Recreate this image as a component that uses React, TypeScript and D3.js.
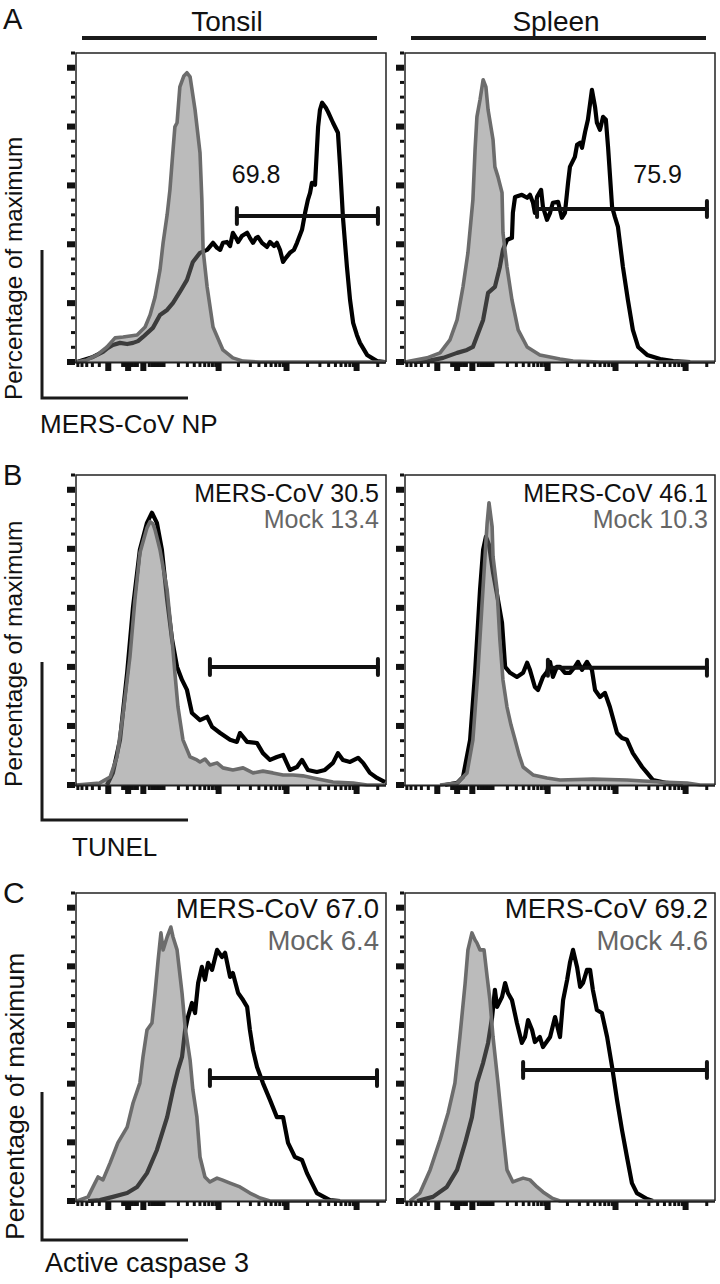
import React from 'react';
import * as d3 from 'd3';

// ---------- axis tick values (biexponential intensity axis, % of max) ----------
const xMajorTicks = [-200, -60, 0, 1000, 10000, 100000];
const xMinorTicks = [
  -700, -600, -500, -400, -300, -90, -80, -70, -50, -40, -30, -20,
  20, 30, 40, 50, 60, 70, 80, 90,
  200, 300, 400, 500, 600, 700, 800, 900,
  2000, 3000, 4000, 5000, 6000, 7000, 8000, 9000,
  20000, 30000, 40000, 50000, 60000, 70000, 80000, 90000,
  200000,
];
const yMajorTicks = [0, 20, 40, 60, 80, 100];
const yMinorTicks = [5, 10, 15, 25, 30, 35, 45, 50, 55, 65, 70, 75, 85, 90, 95, 105];

// ---------- labels ----------
const columns = ['Tonsil', 'Spleen'];
const panelLetters = ['A', 'B', 'C'];
const markers = ['MERS-CoV NP', 'TUNEL', 'Active caspase 3'];
const yLabel = 'Percentage of maximum';

// ---------- histograms: [channel (0-100 % of axis), % of maximum] ----------
const aTonsilMock: [number, number][] = [[0,0],[3.5,0.7],[6.8,2.4],[10.0,5.1],[12.6,8.2],[15.2,8.5],[19.7,9.2],[22.3,11.9],[23.9,16.0],[25.5,22.1],[27.1,31.3],[28.1,40.5],[29.4,50.0],[30.3,58.5],[31.3,72.1],[31.9,79.9],[32.6,81.3],[33.5,93.5],[34.8,97.2],[35.8,98.3],[36.8,96.9],[38.4,85.7],[40.0,71.1],[40.6,55.1],[41.0,38.1],[42.3,25.5],[44.2,11.9],[47.4,4.1],[50.6,1.4],[53.9,0.3],[59.4,0],[100,0]];
const aTonsilMers: [number, number][] = [[0.3,0],[5.5,1.7],[8.7,3.4],[10.3,4.8],[11.9,5.8],[14.2,6.5],[16.5,6.1],[18.4,6.5],[20.0,7.1],[21.6,8.5],[24.8,11.6],[27.1,16.0],[29.4,17.7],[31.3,20.1],[33.5,23.8],[35.8,27.9],[37.7,34.0],[40.0,37.1],[42.3,38.1],[44.2,40.5],[45.5,38.8],[46.5,38.1],[47.4,40.5],[48.7,40.8],[49.7,39.4],[50.6,43.9],[51.6,42.2],[52.3,40.8],[53.5,42.8],[55.2,43.9],[56.1,42.2],[57.1,40.5],[58.1,42.2],[58.7,42.5],[60.0,40.5],[61.6,39.1],[62.6,40.8],[63.9,39.4],[64.8,40.5],[65.8,38.1],[66.8,34.0],[67.7,35.4],[69.0,37.1],[70.3,38.1],[71.3,40.5],[72.9,44.9],[73.9,50.7],[74.8,55.1],[75.5,57.5],[76.1,60.9],[77.1,60.2],[77.7,72.1],[78.1,79.9],[78.7,85.7],[79.4,88.1],[80.6,86.4],[81.3,85.0],[82.9,81.3],[84.5,77.9],[85.2,66.3],[85.8,55.1],[86.1,49.3],[87.4,32.3],[88.4,21.1],[89.4,13.3],[90.6,9.2],[91.6,6.5],[93.9,2.4],[97.1,0.3],[99.7,0]];
const aSpleenMock: [number, number][] = [[0,0],[7.1,1.4],[11.3,3.1],[14.5,7.5],[16.8,14.3],[18.7,25.5],[20.3,37.1],[21.9,55.1],[22.6,72.1],[23.2,83.3],[24.2,89.1],[25.2,95.9],[26.1,93.5],[26.8,85.7],[28.4,75.5],[29.0,66.3],[30.0,62.9],[31.3,57.5],[31.6,43.9],[32.9,32.3],[34.5,21.1],[36.5,10.9],[39.4,5.1],[43.5,2.4],[50.0,1.0],[54.2,0.3],[63,0],[100,0]];
const aSpleenMers: [number, number][] = [[3.0,0],[7.1,0.3],[12.3,1.4],[16.8,3.1],[20.0,4.1],[21.9,5.1],[25.2,14.3],[26.8,23.5],[29.0,25.5],[30.6,32.3],[31.6,38.1],[32.9,41.5],[34.5,42.2],[34.8,50.7],[35.5,56.1],[37.7,56.8],[39.4,55.8],[40.3,56.8],[41.3,54.1],[41.9,50.7],[42.6,56.1],[43.9,58.5],[44.5,52.7],[45.8,48.3],[46.8,50.7],[47.7,54.1],[49.4,54.4],[50.6,49.0],[51.6,50.7],[52.6,60.9],[53.2,66.3],[54.8,69.7],[55.5,73.8],[56.5,74.5],[57.1,72.8],[58.1,78.2],[59.0,82.3],[60.3,92.5],[61.3,86.7],[61.9,81.3],[62.9,78.9],[63.9,83.3],[64.8,82.3],[65.5,73.1],[66.8,52.7],[67.7,49.3],[68.7,45.9],[70.3,32.3],[71.9,21.1],[73.5,10.9],[75.2,5.1],[78.1,2.4],[82.3,1.0],[86.5,0.3],[92,0]];

const bTonsilMock: [number, number][] = [[0,0],[7.7,0.7],[11.0,2.7],[13.2,9.5],[15.2,24.4],[17.4,43.4],[19.0,62.7],[20.6,78.6],[22.9,87.1],[23.9,89.2],[24.8,88.5],[25.5,86.4],[27.1,79.7],[29.4,66.1],[31.0,49.2],[31.9,38.0],[32.9,26.4],[34.5,15.3],[36.8,9.5],[39.0,8.5],[40.0,7.8],[41.6,8.8],[43.2,6.8],[45.5,7.5],[47.4,5.8],[50.6,5.1],[53.9,5.8],[57.1,4.1],[60.3,4.7],[63.5,4.1],[66.8,3.4],[70.0,3.4],[73.2,3.1],[76.5,2.4],[79.7,1.7],[82.9,1.0],[89.4,0.7],[93.9,0],[100,0]];
const bTonsilMers: [number, number][] = [[10.0,0],[11.9,4.1],[14.2,15.3],[16.5,38.0],[18.4,60.3],[20.6,79.7],[22.9,88.8],[24.5,92.2],[26.1,88.8],[27.7,79.7],[29.4,62.7],[31.0,49.2],[32.6,40.0],[34.2,35.6],[35.8,32.2],[37.4,24.4],[40.0,22.0],[42.3,23.1],[43.9,19.7],[46.5,17.6],[49.7,15.3],[51.9,14.6],[52.9,17.6],[55.2,14.6],[58.4,14.2],[60.3,10.8],[62.6,8.5],[64.8,9.5],[66.8,10.2],[69.0,5.1],[71.3,6.1],[72.9,8.5],[74.8,5.1],[77.7,4.4],[80.3,5.1],[82.9,7.5],[84.5,10.8],[86.1,8.5],[88.4,7.8],[91.0,9.2],[92.6,7.5],[94.8,4.1],[97.1,2.4],[99.7,1.0]];
const bSpleenMock: [number, number][] = [[11.3,0],[16.8,0.7],[20.0,4.1],[21.9,15.3],[23.5,38.0],[24.8,60.3],[25.8,77.3],[26.5,88.8],[27.1,95.6],[28.1,87.5],[28.4,77.3],[29.7,66.1],[30.6,49.2],[31.6,35.6],[32.9,26.4],[34.2,20.3],[35.5,15.3],[36.8,10.2],[38.1,6.1],[41.3,3.4],[45.8,2.4],[50.0,1.7],[60.6,2.0],[71.6,1.7],[82.3,1.0],[91.0,0.7],[95.2,0],[100,0]];
const bSpleenMers: [number, number][] = [[12.9,0],[16.8,0.7],[18.7,2.7],[21.0,15.3],[22.6,38.0],[24.2,66.1],[25.2,79.7],[26.1,84.1],[27.1,81.4],[28.4,71.9],[30.0,62.7],[31.3,54.9],[32.3,40.0],[33.9,38.0],[36.1,36.6],[38.1,38.0],[39.4,41.4],[40.3,39.0],[41.9,33.2],[42.9,32.2],[44.5,36.6],[45.8,38.3],[46.8,41.7],[47.7,36.6],[49.0,40.0],[50.0,40.0],[51.6,38.0],[53.2,38.0],[54.8,40.0],[55.8,41.7],[57.1,39.0],[58.7,41.7],[60.3,39.0],[61.3,32.2],[62.9,29.8],[64.5,31.2],[66.1,26.4],[68.4,17.6],[70.0,15.9],[71.6,15.3],[73.5,10.8],[76.5,6.1],[78.1,4.1],[80.0,1.7],[84.5,0.7],[89.7,0]];

const cTonsilMock: [number, number][] = [[0.3,0],[3.9,1.4],[5.5,4.8],[7.1,8.2],[8.7,7.2],[11.0,13.0],[13.5,19.8],[16.5,25.2],[18.4,33.4],[20.6,40.2],[21.6,49.1],[22.9,58.3],[24.5,60.7],[25.5,70.9],[26.5,82.2],[27.4,91.4],[28.1,85.6],[29.4,90.0],[30.6,93.4],[31.3,90.0],[32.6,85.6],[34.2,70.9],[35.2,59.3],[36.8,48.1],[37.7,37.9],[39.0,28.6],[40.0,15.0],[41.6,8.2],[43.2,6.5],[45.5,7.8],[47.1,7.2],[49.7,6.1],[52.9,4.8],[56.1,2.7],[59.4,1.0],[62.6,0],[100,0]];
const cTonsilMers: [number, number][] = [[3.9,0],[7.7,0.3],[11.9,1.4],[16.5,2.7],[19.7,4.8],[22.9,9.5],[26.1,17.4],[29.4,28.6],[31.3,37.9],[32.9,44.7],[34.2,49.1],[35.2,58.3],[36.1,62.7],[37.4,67.5],[38.4,64.1],[39.4,74.3],[40.6,79.8],[41.6,75.4],[42.6,81.2],[43.9,78.8],[45.5,85.6],[47.1,83.2],[48.1,84.6],[49.7,76.4],[50.6,77.7],[52.3,70.9],[53.9,68.5],[55.2,66.2],[56.1,58.3],[57.1,51.5],[58.4,45.7],[60.3,40.2],[62.6,34.4],[64.8,28.6],[66.8,28.6],[68.4,19.8],[70.6,15.0],[72.9,14.0],[74.5,9.5],[77.7,2.7],[81.9,0.3],[85.2,0]];
const cSpleenMock: [number, number][] = [[1.6,0],[4.8,2.7],[8.1,10.6],[11.3,20.8],[13.9,30.0],[16.1,40.2],[17.7,55.9],[19.4,74.3],[20.3,85.6],[21.6,91.4],[22.6,89.0],[23.2,88.0],[24.2,85.6],[25.5,85.6],[26.5,76.4],[27.4,68.5],[28.4,55.9],[30.0,40.2],[31.6,23.2],[32.9,10.6],[34.8,6.5],[36.5,7.2],[38.1,7.8],[40.3,7.2],[42.6,4.8],[44.5,3.1],[47.4,1.0],[50.0,0],[100,0]];
const cSpleenMers: [number, number][] = [[3.9,0],[9.0,1.4],[13.5,4.8],[16.8,10.6],[19.4,19.8],[21.6,28.6],[23.2,40.2],[25.2,47.1],[26.8,53.9],[28.1,62.7],[29.0,72.0],[29.7,66.2],[31.3,69.6],[32.3,74.3],[33.2,70.9],[34.5,68.5],[36.1,60.7],[37.7,53.9],[38.7,55.9],[39.7,61.7],[41.0,58.3],[41.9,54.2],[43.5,55.9],[44.5,52.5],[46.8,55.9],[48.4,62.7],[50.0,55.9],[51.0,68.5],[52.3,75.4],[53.2,81.2],[54.2,85.6],[55.5,79.8],[56.5,73.0],[57.4,74.3],[58.7,78.8],[59.7,78.8],[60.6,72.0],[61.9,65.1],[63.5,64.1],[65.2,55.9],[66.8,45.7],[68.4,34.4],[70.0,24.2],[71.6,15.0],[73.2,6.1],[74.8,2.7],[78.1,0.7],[80.0,0]];

// ---------- gates: [start channel, end channel, height %] ----------
const gates: [number, number, number][][] = [
  [[51.9, 97.4, 49.6], [42.6, 97.4, 52.0]],
  [[43.2, 97.4, 40.0], [46.1, 97.4, 39.7]],
  [[43.2, 97.1, 41.9], [38.1, 97.4, 44.7]],
];
const gateValues = ['69.8', '75.9'];
const mersValues = [['30.5', '46.1'], ['67.0', '69.2']];
const mockValues = [['13.4', '10.3'], ['6.4', '4.6']];

const FONT = '"Liberation Sans", Arial, Helvetica, sans-serif';
const DARK = '#111';
const GRAY_LINE = '#6c6c6c';
const FILL = '#777';

const bioScale = d3.scaleSymlog().constant(93).domain([-750, 262000]).range([0, 100]);

type PanelProps = {
  left: number; top: number; bottom: number; width: number;
  mock: [number, number][]; mers: [number, number][];
  gate: [number, number, number];
};

function Histogram({ left, top, bottom, width, mock, mers, gate }: PanelProps) {
  const x = d3.scaleLinear().domain([0, 100]).range([left, left + width]);
  const y = d3.scaleLinear().domain([0, 105]).range([bottom, top]);
  const line = d3.line<[number, number]>().x(d => x(d[0])).y(d => y(d[1]));
  const area = d3.area<[number, number]>().x(d => x(d[0])).y0(y(0)).y1(d => y(d[1]));
  const right = left + width;
  const [g0, g1, gy] = gate;
  return (
    <g>
      <path d={line(mers) || ''} fill="none" stroke="#000" strokeWidth={4.2} strokeLinejoin="round" />
      <path d={area(mock) || ''} fill={FILL} fillOpacity={0.5} stroke="none" />
      <path d={line(mock) || ''} fill="none" stroke={GRAY_LINE} strokeWidth={3.6} strokeLinejoin="round" />
      <path d={`M${left},${bottom} V${top} H${right} V${bottom}`} fill="none" stroke="#222" strokeWidth={1.5} />
      <line x1={left - 1} x2={right} y1={bottom + 0.5} y2={bottom + 0.5} stroke="#222" strokeWidth={2} />
      {yMajorTicks.map(t => (
        <rect key={'ym' + t} x={left - 9} y={y(t) - 3} width={8} height={6} fill={DARK} />
      ))}
      {yMinorTicks.map(t => (
        <rect key={'yn' + t} x={left - 5} y={y(t) - 1.5} width={4} height={3} fill={DARK} />
      ))}
      {xMajorTicks.map(t => (
        <rect key={'xm' + t} x={x(bioScale(t)) - 3} y={bottom + 1} width={6} height={8} fill={DARK} />
      ))}
      {xMinorTicks.map(t => (
        <rect key={'xn' + t} x={x(bioScale(t)) - 1.5} y={bottom + 1} width={3} height={4} fill={DARK} />
      ))}
      <g stroke="#111" strokeWidth={4} strokeLinecap="round">
        <line x1={x(g0)} x2={x(g1)} y1={y(gy)} y2={y(gy)} />
        <line x1={x(g0)} x2={x(g0)} y1={y(gy) - 8} y2={y(gy) + 8} />
        <line x1={x(g1)} x2={x(g1)} y1={y(gy) - 8} y2={y(gy) + 8} />
      </g>
    </g>
  );
}

export default function App() {
  const colLefts = [76, 405];
  const W = 310;
  const rows = [
    { top: 53, bottom: 362 },
    { top: 475, bottom: 785 },
    { top: 893, bottom: 1201 },
  ];
  const data = [
    [[aTonsilMock, aTonsilMers], [aSpleenMock, aSpleenMers]],
    [[bTonsilMock, bTonsilMers], [bSpleenMock, bSpleenMers]],
    [[cTonsilMock, cTonsilMers], [cSpleenMock, cSpleenMers]],
  ];
  const letterY = [29, 485, 903];
  const letterSize = [29, 29, 30];
  const ylabBottom = [400, 787, 1240];
  const ylabX = [22, 22, 24];
  const ylabSize = [24.3, 24.6, 26.5];
  const lCorner = [{ top: 250, y: 398 }, { top: 662, y: 820 }, { top: 1092, y: 1240 }];
  const markerPos = [{ x: 40, y: 433, s: 26 }, { x: 72, y: 856, s: 26 }, { x: 45, y: 1272, s: 27 }];
  const annSize = [25, 27.5];
  const annDy = [[27, 53], [25, 57]];

  return (
    <svg width={720} height={1284} style={{ position: 'absolute', left: 0, top: 0, background: '#fff' }}
      fontFamily={FONT}>
      <rect x={0} y={0} width={720} height={1284} fill="#fff" />
      {columns.map((c, i) => (
        <g key={c}>
          <text x={colLefts[i] + W / 2 - 4} y={31} textAnchor="middle" fontSize={28} fill="#111">{c}</text>
          <line x1={colLefts[i] + 6} x2={colLefts[i] + W - 9} y1={38} y2={38} stroke="#1a1a1a" strokeWidth={4} />
        </g>
      ))}
      {rows.map((r, ri) => (
        <g key={ri}>
          <text x={3} y={letterY[ri]} fontSize={letterSize[ri]} fill="#111">{panelLetters[ri]}</text>
          <text transform={`translate(${ylabX[ri]},${ylabBottom[ri]}) rotate(-90)`} fontSize={ylabSize[ri]} fill="#111">{yLabel}</text>
          <path d={`M42,${lCorner[ri].top} V${lCorner[ri].y} H188`} fill="none" stroke="#1a1a1a" strokeWidth={3} />
          <text x={markerPos[ri].x} y={markerPos[ri].y} fontSize={markerPos[ri].s} fill="#111">{markers[ri]}</text>
          {colLefts.map((cl, ci) => {
            const [mock, mers] = data[ri][ci];
            const x = d3.scaleLinear().domain([0, 100]).range([cl, cl + W]);
            const y = d3.scaleLinear().domain([0, 105]).range([r.bottom, r.top]);
            return (
              <g key={ci}>
                <Histogram left={cl} top={r.top} bottom={r.bottom} width={W}
                  mock={mock as [number, number][]} mers={mers as [number, number][]} gate={gates[ri][ci]} />
                {ri === 0 ? (
                  <text x={x(ci === 0 ? 58.1 : 81.5)} y={y(60.9)} textAnchor="middle" fontSize={25} fill="#111">
                    {gateValues[ci]}
                  </text>
                ) : (
                  <g fontSize={annSize[ri - 1]} textAnchor="end">
                    <text x={cl + W - 7} y={r.top + annDy[ri - 1][0]} fill="#111">{'MERS-CoV ' + mersValues[ri - 1][ci]}</text>
                    <text x={cl + W - 7} y={r.top + annDy[ri - 1][1]} fill="#666">{'Mock ' + mockValues[ri - 1][ci]}</text>
                  </g>
                )}
              </g>
            );
          })}
        </g>
      ))}
    </svg>
  );
}
